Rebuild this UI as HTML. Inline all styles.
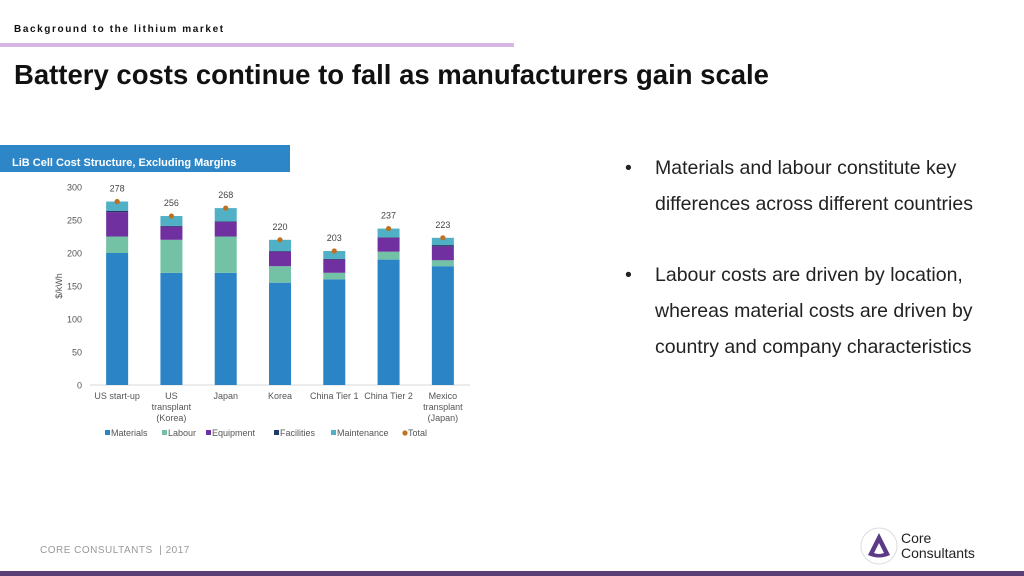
<!DOCTYPE html>
<html><head><meta charset="utf-8"><style>
body{margin:0;width:1024px;height:576px;overflow:hidden;background:#fff;font-family:"Liberation Sans",sans-serif;position:relative}
.abs{position:absolute}
.bl{position:absolute;left:625px;font-size:19.5px;color:#222;line-height:36px}
.bl .dot{position:absolute;left:0;top:0}
.bl .tx{margin-left:30px;white-space:nowrap}
</style></head><body>
<div class="abs" style="left:14px;top:24px;font-size:10px;font-weight:bold;letter-spacing:1.6px;color:#111">Background to the lithium market</div>
<div class="abs" style="left:0;top:43px;width:514px;height:4px;background:#d6b6e3"></div>
<div class="abs" style="left:14px;top:59px;font-size:27.5px;font-weight:bold;color:#111">Battery costs continue to fall as manufacturers gain scale</div>
<div class="abs" style="left:0;top:145px;width:290px;height:27px;background:#2d86c8"></div>
<div class="abs" style="left:12px;top:157px;font-size:11px;font-weight:bold;color:#fff">LiB Cell Cost Structure, Excluding Margins</div>
<svg class="abs" style="left:0;top:0" width="520" height="460" id="chart"></svg>
<div class="bl" style="top:150px"><span class="dot">•</span><div class="tx">Materials and labour constitute key</div><div class="tx">differences across different countries</div></div>
<div class="bl" style="top:257px"><span class="dot">•</span><div class="tx">Labour costs are driven by location,</div><div class="tx">whereas material costs are driven by</div><div class="tx">country and company characteristics</div></div>
<div class="abs" style="left:40px;top:545px;font-size:10px;color:#999;letter-spacing:0.5px">CORE CONSULTANTS &nbsp;| 2017</div>
<svg class="abs" style="left:860px;top:527px" width="40" height="40"><circle cx="19" cy="19" r="18" fill="none" stroke="#ddd" stroke-width="1"/><path d="M19 6 L30 28 Q19 33 8 28 Z" fill="#5b3a86"/><path d="M19 16 L24 26 Q19 28 14 26 Z" fill="#fff"/></svg>
<div class="abs" style="left:901px;top:531px;font-size:14px;line-height:15px;color:#222">Core<br>Consultants</div>
<div class="abs" style="left:0;top:571px;width:1024px;height:5px;background:#5b4077"></div>
<script>
const categories=[["US start-up"],["US","transplant","(Korea)"],["Japan"],["Korea"],["China Tier 1"],["China Tier 2"],["Mexico","transplant","(Japan)"]];
const materials=[200,170,170,155,160,190,180];
const labour=[25,50,55,25,10,12,9];
const equipment=[37,20,22,22,20,21,21];
const facilities=[2,1,1,1,1,1,2];
const maintenance=[14,15,20,17,12,13,11];
const totals=[278,256,268,220,203,237,223];
const yTicks=[0,50,100,150,200,250,300];
const seriesNames=["Materials","Labour","Equipment","Facilities","Maintenance"];
const colors=["#2a84c6","#73c2a6","#7030a0","#1f3b66","#4fb0c6"];
const svg=document.getElementById('chart');const NS="http://www.w3.org/2000/svg";
const x0=90,x1=470,y0=385,yTop=187;
const y=v=>y0-(v/300)*(y0-yTop);
const step=(x1-x0)/categories.length;
const cx=i=>x0+step*(i+0.5);
function mk(t,a,txt){const e=document.createElementNS(NS,t);for(const k in a)e.setAttribute(k,a[k]);if(txt!=null)e.textContent=txt;svg.appendChild(e);return e;}
yTicks.forEach(t=>{const e=mk('text',{x:82,y:y(t)+3.5,'text-anchor':'end','font-size':9,fill:'#555'},t);

});
const yl=mk('text',{x:0,y:0,transform:'translate(62,286) rotate(-90)','text-anchor':'middle','font-size':9,fill:'#555'},'$/kWh');


const ax=mk('line',{x1:x0,x2:x1,y1:y0,y2:y0,stroke:'#d9d9d9'});


const series=[materials,labour,equipment,facilities,maintenance];
categories.forEach((c,i)=>{let acc=0;
series.forEach((s,k)=>{const r=mk('rect',{x:cx(i)-11,y:y(acc+s[i]),width:22,height:y(acc)-y(acc+s[i]),fill:colors[k]});

acc+=s[i];});
const d=mk('circle',{cx:cx(i),cy:y(totals[i]),r:2.6,fill:'#c0701f'});


const tl=mk('text',{x:cx(i),y:y(totals[i])-10,'text-anchor':'middle','font-size':9,fill:'#444'},totals[i]);


c.forEach((ln,j)=>{const t=mk('text',{x:cx(i),y:399+j*11,'text-anchor':'middle','font-size':9,fill:'#555'},ln);

});});
const legend=[["Materials",111],["Labour",168],["Equipment",212],["Facilities",280],["Maintenance",337],["Total",408]];
legend.forEach((l,k)=>{let m;
if(k<5)m=mk('rect',{x:l[1]-6,y:430,width:5,height:5,fill:colors[k]});else m=mk('circle',{cx:l[1]-3,cy:433,r:2.6,fill:'#c0701f'});


const t=mk('text',{x:l[1],y:436,'font-size':9,fill:'#555'},l[0]);

});
</script>
</body></html>
